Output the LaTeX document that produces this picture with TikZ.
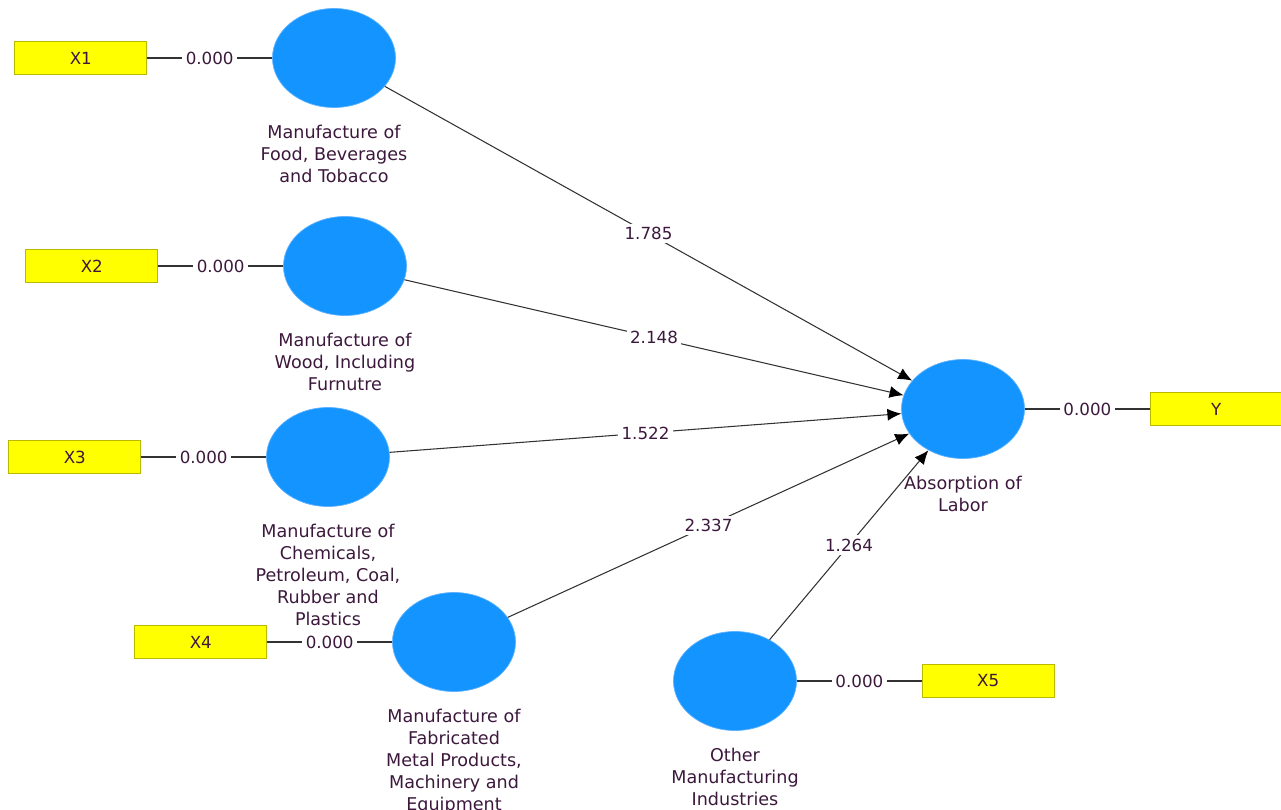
\documentclass[tikz,border=0pt]{standalone}
\usepackage{fontspec}
\setmainfont{DejaVu Sans}
\usetikzlibrary{positioning,shapes.geometric,arrows.meta}
\definecolor{lvblue}{RGB}{20,148,255}
\definecolor{lvedge}{RGB}{95,178,255}
\definecolor{mvyellow}{RGB}{255,255,0}
\definecolor{mvedge}{RGB}{185,185,0}
\definecolor{txtcol}{RGB}{60,25,60}
\definecolor{linecol}{RGB}{50,50,50}

\begin{document}
\begin{tikzpicture}[
lv/.style={draw=lvedge,fill=lvblue,ellipse,minimum width=2.46cm,minimum height=1.98cm,inner sep=0pt},
lvtext/.style={text=txtcol,align=center,yshift=-0.22cm,font=\fontsize{10}{12.5}\selectfont},
mv/.style={draw=mvedge,fill=mvyellow,rectangle,minimum width=2.64cm,minimum height=0.66cm,inner sep=0pt,text=txtcol,font=\fontsize{9.5}{11}\selectfont},
coef/.style={fill=white,inner sep=2pt,text=txtcol,font=\fontsize{9.5}{11}\selectfont},
effect/.style={draw=linecol,line width=0.6pt,-{Latex[length=2.8mm,width=2.4mm,black]}},
link/.style={draw=linecol,line width=0.6pt}]
\useasboundingbox (0,0) rectangle (25.62,-16.2);
\node (food) [lv,
    label={[lvtext]below:{Manufacture of\\Food, Beverages\\and Tobacco}}] at (6.68,-1.16) {};
\node (wood) [lv,
    label={[lvtext]below:{Manufacture of\\Wood, Including\\Furnutre}}] at (6.90,-5.32) {};
\node (chem) [lv,
    label={[lvtext]below:{Manufacture of\\Chemicals,\\Petroleum, Coal,\\Rubber and\\Plastics}}] at (6.56,-9.14) {};
\node (metal) [lv,
    label={[lvtext]below:{Manufacture of\\Fabricated\\Metal Products,\\Machinery and\\Equipment}}] at (9.08,-12.84) {};
\node (other) [lv,
    label={[lvtext]below:{Other\\Manufacturing\\Industries}}] at (14.70,-13.62) {};
\node (labor) [lv,
    label={[lvtext]below:{Absorption of\\Labor}}] at (19.26,-8.18) {};
\node (x1) [mv,left=2.5cm of food] {X1};
\node (x2) [mv,left=2.5cm of wood] {X2};
\node (x3) [mv,left=2.5cm of chem] {X3};
\node (x4) [mv,left=2.5cm of metal] {X4};
\node (x5) [mv,right=2.5cm of other] {X5};
\node (y) [mv,right=2.5cm of labor] {Y};
\draw [link] (x1) -- node [coef] {0.000} (food);
\draw [link] (x2) -- node [coef] {0.000} (wood);
\draw [link] (x3) -- node [coef] {0.000} (chem);
\draw [link] (x4) -- node [coef] {0.000} (metal);
\draw [link] (other) -- node [coef] {0.000} (x5);
\draw [link] (labor) -- node [coef] {0.000} (y);
\draw [effect] (food) -- node [coef] {1.785} (labor);
\draw [effect] (wood) -- node [coef] {2.148} (labor);
\draw [effect] (chem) -- node [coef] {1.522} (labor);
\draw [effect] (metal) -- node [coef] {2.337} (labor);
\draw [effect] (other) -- node [coef] {1.264} (labor);
\end{tikzpicture}
\end{document}
